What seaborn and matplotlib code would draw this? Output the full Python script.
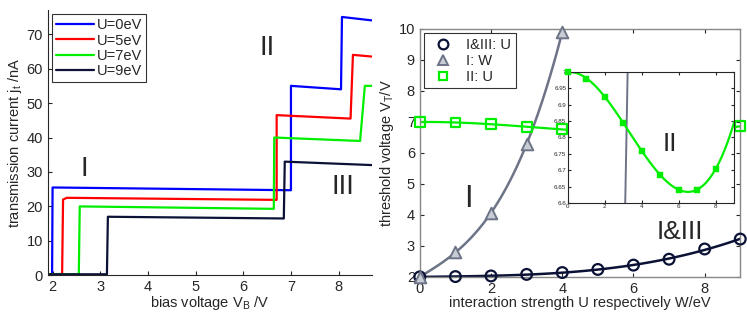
import numpy as np
import pandas as pd
import seaborn as sns
import matplotlib.pyplot as plt
from matplotlib.lines import Line2D

sns.set_style("ticks")
plt.rcParams['font.family'] = ['Liberation Sans', 'DejaVu Sans']
plt.rcParams['mathtext.fontset'] = 'custom'
plt.rcParams['mathtext.rm'] = 'Liberation Sans'
plt.rcParams['mathtext.it'] = 'Liberation Sans'
plt.rcParams['xtick.direction'] = 'in'
plt.rcParams['ytick.direction'] = 'in'

# left panel: step-like I-V curves (vertices)
labels_left = ["U=0eV", "U=5eV", "U=7eV", "U=9eV"]
colors_left = ["#0000ff", "#ff0000", "#00ee00", "#0b1236"]
v_u0 = [1.9, 1.99, 2.0, 7.0, 7.0, 8.05, 8.07, 8.7]
j_u0 = [0.3, 0.3, 25.5, 24.7, 55.0, 54.0, 75.0, 74.0]
v_u5 = [1.9, 2.2, 2.22, 2.3, 6.7, 6.7, 8.25, 8.3, 8.7]
j_u5 = [0.3, 0.3, 22.0, 22.5, 21.9, 46.5, 45.5, 64.0, 63.5]
v_u7 = [1.9, 2.55, 2.57, 6.64, 6.65, 8.45, 8.55, 8.7]
j_u7 = [0.3, 0.3, 20.0, 19.3, 40.0, 39.0, 55.0, 55.0]
v_u9 = [1.9, 3.14, 3.16, 6.85, 6.87, 8.7]
j_u9 = [0.3, 0.3, 17.0, 16.5, 33.0, 32.0]

# right panel: threshold voltages
u_vals = [0, 1, 2, 3, 4, 5, 6, 7, 8, 9]
vt_13 = [2.0, 2.01, 2.03, 2.08, 2.14, 2.24, 2.38, 2.57, 2.9, 3.22]
w_vals = [0, 1, 2, 3, 4]
vt_w = [2.0, 2.8, 4.05, 6.3, 9.9]
vt_2 = [7.0, 6.98, 6.925, 6.845, 6.76, 6.685, 6.64, 6.64, 6.705, 6.865]

navy = "#0b1236"
gray = "#6d7487"
green = "#00ee00"

fig = plt.figure(figsize=(7.47, 3.15), dpi=100)
ax1 = fig.add_axes([0.064, 0.126, 0.434, 0.842])
ax2 = fig.add_axes([0.562, 0.121, 0.429, 0.787])
ax3 = fig.add_axes([0.760, 0.356, 0.223, 0.415])

# ---- left panel
for v, j, lab, c in zip([v_u0, v_u5, v_u7, v_u9], [j_u0, j_u5, j_u7, j_u9],
                        labels_left, colors_left):
    sns.lineplot(x=v, y=j, sort=False, estimator=None, ax=ax1, color=c,
                 lw=1.6, label=lab)
ax1.set_xlim(1.9, 8.7)
ax1.set_ylim(0, 77)
ax1.set_xticks(range(2, 9))
ax1.set_yticks(range(0, 80, 10))
ax1.tick_params(labelsize=10.5, length=3)
sns.despine(ax=ax1)
ax1.set_xlabel(r"bias voltage V$_{\rm B}$ /V", fontsize=10.5, labelpad=0)
ax1.set_ylabel(r"transmission current j$_{\rm t}$ /nA", fontsize=10.5, labelpad=2)
leg = ax1.legend(loc="upper left", fontsize=10.5, frameon=True, fancybox=False,
                 edgecolor="black", handlelength=2.6, handletextpad=0.2,
                 borderaxespad=0.3, labelspacing=0.1, borderpad=0.25)
leg.get_frame().set_linewidth(0.8)
ax1.text(2.67, 31, "I", fontsize=20, ha="center", va="center")
ax1.text(6.5, 66, "II", fontsize=20, ha="center", va="center")
ax1.text(8.1, 25.5, "III", fontsize=20, ha="center", va="center")

# ---- right panel
df13 = pd.DataFrame({"x": u_vals, "y": vt_13})
dfw = pd.DataFrame({"x": w_vals, "y": vt_w})
df2 = pd.DataFrame({"x": u_vals, "y": vt_2})
ax2.set_xlim(0, 9)
ax2.set_ylim(2, 10)
sns.regplot(data=dfw, x="x", y="y", order=3, ci=None, scatter=False, ax=ax2,
            line_kws={"color": gray, "lw": 1.8})
sns.regplot(data=df2, x="x", y="y", order=3, ci=None, scatter=False, ax=ax2,
            line_kws={"color": green, "lw": 1.6})
sns.regplot(data=df13, x="x", y="y", order=3, ci=None, scatter=False, ax=ax2,
            line_kws={"color": navy, "lw": 1.8})
sns.scatterplot(data=df13, x="x", y="y", marker="o", s=60, facecolor="none",
                edgecolor=navy, linewidth=1.6, ax=ax2, zorder=5, clip_on=False)
sns.scatterplot(data=dfw, x="x", y="y", marker="^", s=70, color="#c8ccd4",
                edgecolor=gray, linewidth=1.4, ax=ax2, zorder=5, clip_on=False)
sns.scatterplot(data=df2, x="x", y="y", marker="s", s=50, facecolor="none",
                edgecolor=green, linewidth=1.6, ax=ax2, zorder=5, clip_on=False)
ax2.set_xticks([0, 2, 4, 6, 8])
ax2.set_yticks(range(2, 11))
ax2.tick_params(labelsize=10.5, length=3, top=True, right=True)
ax2.set_xlabel("interaction strength U respectively W/eV", fontsize=10.5, labelpad=0)
ax2.set_ylabel(r"threshold voltage V$_{\rm T}$/V", fontsize=10.5, labelpad=2)
for s in ax2.spines.values():
    s.set_color("#888888")
    s.set_linewidth(1.0)
handles = [
    Line2D([], [], ls="none", marker="o", mfc="none", mec=navy, mew=1.6, ms=7, label="I&III: U"),
    Line2D([], [], ls="none", marker="^", mfc="#c8ccd4", mec=gray, mew=1.4, ms=7, label="I: W"),
    Line2D([], [], ls="none", marker="s", mfc="none", mec=green, mew=1.6, ms=6, label="II: U"),
]
leg2 = ax2.legend(handles=handles, loc="upper left", fontsize=10.5, frameon=True,
                  fancybox=False, edgecolor="black", handletextpad=0.6,
                  borderaxespad=0.3, labelspacing=0.15, borderpad=0.3)
leg2.get_frame().set_linewidth(0.8)
ax2.text(1.35, 4.5, "I", fontsize=22, ha="center", va="center")
ax2.text(7.3, 3.45, "I&III", fontsize=19, ha="center", va="center")

# ---- inset
df2in = df2[df2["x"] <= 8]
ax3.set_xlim(0, 9)
ax3.set_ylim(6.6, 7.0)
sns.regplot(data=dfw, x="x", y="y", order=3, ci=None, scatter=False, ax=ax3,
            line_kws={"color": gray, "lw": 1.4})
sns.regplot(data=df2in, x="x", y="y", order=3, ci=None, scatter=False, ax=ax3,
            truncate=False, line_kws={"color": green, "lw": 1.6})
sns.scatterplot(data=df2in, x="x", y="y", marker="s", s=14, color=green,
                edgecolor=green, ax=ax3, zorder=5, clip_on=False)
ax3.set_xlim(0, 9)
ax3.set_ylim(6.6, 7.0)
ax3.set_xticks([0, 2, 4, 6, 8])
ax3.set_yticks(np.arange(6.6, 7.01, 0.05))
ax3.set_yticklabels(["6.6", "6.65", "6.7", "6.75", "6.8", "6.85", "6.9", "6.95", "7"])
ax3.tick_params(labelsize=4.5, length=2, top=True, right=True, pad=1)
ax3.set_xlabel("")
ax3.set_ylabel("")
for s in ax3.spines.values():
    s.set_linewidth(0.8)
ax3.text(5.5, 6.78, "II", fontsize=19, ha="center", va="center")

fig.savefig("out.png", dpi=100)
